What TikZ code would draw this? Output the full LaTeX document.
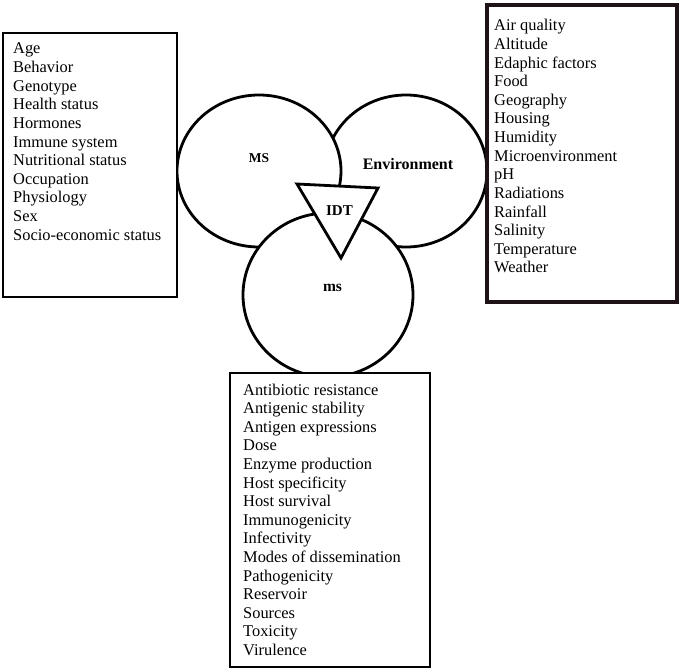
\documentclass[tikz,border=0pt]{standalone}
\usepackage{fontspec}
\setmainfont{Liberation Serif}
\tikzset{
  ring/.style={draw=black, fill=white, line width=2.8pt},
  listbox/.style={draw=black, fill=white, line width=2.8pt},
  envbox/.style={draw={rgb,255:red,30;green,18;blue,22}, fill=white, line width=4pt},
  item/.style={anchor=base west, inner sep=0pt, font=\fontsize{16.4}{18}\selectfont},
  lbl/.style={anchor=base, inner sep=0pt, font=\bfseries}
}
\begin{document}
\begin{tikzpicture}[x=1pt,y=-1pt]
\useasboundingbox (0,0) rectangle (681,669);
% circles
\draw[ring] (406,171) ellipse [x radius=81, y radius=76];
\draw[ring] (259,171) ellipse [x radius=82, y radius=76];
\draw[ring] (328,295) ellipse [x radius=85, y radius=82];
% triangle
\coordinate (t1) at (297,184);
\coordinate (t2) at (378,188);
\coordinate (t3) at (341,258);
\draw[ring, line join=miter] (t1) -- (t2) -- (t3) -- cycle;
% labels
\node[lbl, font=\bfseries\fontsize{13.5}{16}\selectfont] (ms1) at (259,163) {MS};
\node[lbl, font=\bfseries\fontsize{16}{18}\selectfont] (env) at (408,169) {Environment};
\node[lbl, font=\bfseries\fontsize{15}{18}\selectfont] (idt) at (339.5,215) {IDT};
\node[lbl, font=\bfseries\fontsize{15.5}{18}\selectfont] (ms2) at (332.5,291) {ms};
% boxes
\draw[listbox] (3,33) rectangle (177,297);
\draw[envbox] (487,5) rectangle (677,302);
\draw[listbox] (230,373) rectangle (430,667);
% left list
\foreach \t [count=\i from 0] in {Age,Behavior,Genotype,Health status,Hormones,Immune system,Nutritional status,Occupation,Physiology,Sex,Socio-economic status}
  \node[item] (l\i) at (13,54+18.6*\i) {\t};
% right list
\foreach \t [count=\i from 0] in {Air quality,Altitude,Edaphic factors,Food,Geography,Housing,Humidity,Microenvironment,pH,Radiations,Rainfall,Salinity,Temperature,Weather}
  \node[item] (r\i) at (494,31+18.6*\i) {\t};
% bottom list
\foreach \t [count=\i from 0] in {Antibiotic resistance,Antigenic stability,Antigen expressions,Dose,Enzyme production,Host specificity,Host survival,Immunogenicity,Infectivity,Modes of dissemination,Pathogenicity,Reservoir,Sources,Toxicity,Virulence}
  \node[item] (b\i) at (243,395+18.6*\i) {\t};
\end{tikzpicture}
\end{document}
